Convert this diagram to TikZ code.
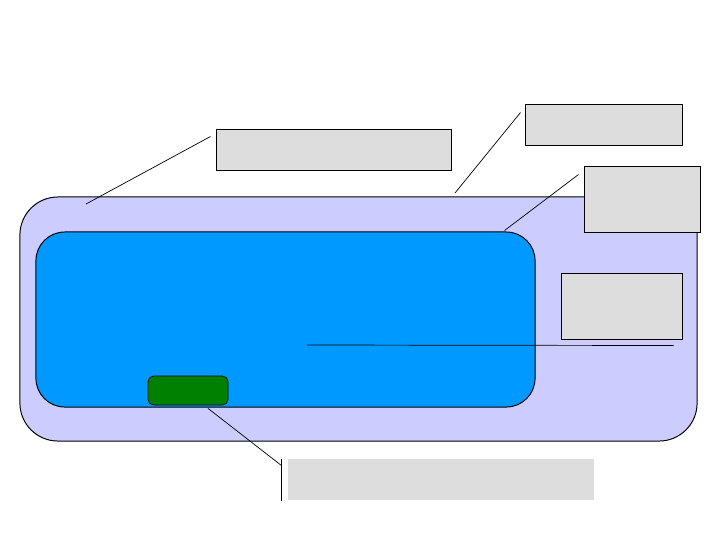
\documentclass[tikz,border=0pt]{standalone}
\usepackage{tikz}
\usetikzlibrary{positioning}
\usetikzlibrary{calc}

\definecolor{lavender}{HTML}{CCCCFF}
\definecolor{screenblue}{HTML}{0099FF}
\definecolor{keygreen}{HTML}{008000}
\definecolor{boxgray}{HTML}{DDDDDD}

\tikzset{
    callout/.style={draw, fill=boxgray, line width=0.7pt, inner sep=0pt},
    leader/.style={line width=0.5pt},
}

\begin{document}
\begin{tikzpicture}[x=0.025cm, y=-0.025cm]
    \useasboundingbox (0,0) rectangle (720,540);

    % body of the device
    \node[draw, fill=lavender, line width=0.7pt, rounded corners=0.95cm, inner sep=0pt,
          minimum width=16.925cm, minimum height=6.1cm] (case) at (358.5,319) {};
    \node[draw, fill=screenblue, line width=0.7pt, rounded corners=0.72cm, inner sep=0pt,
          minimum width=12.475cm, minimum height=4.375cm] (screen) at (285.5,319.5) {};
    \node[draw, fill=keygreen, line width=0.5pt, rounded corners=0.14cm, inner sep=0pt,
          minimum width=2cm, minimum height=0.725cm] (key) at (188,390.5) {};

    % label boxes
    \node[callout, minimum width=5.85cm, minimum height=1.025cm] (lbltop) at (334,149.5) {};
    \node[callout, minimum width=3.9cm, minimum height=1.025cm] (lblright) at (604,124.5) {};
    \node[callout, minimum width=2.9cm, minimum height=1.65cm] (lblcorner) at (642,199) {};
    \node[callout, minimum width=3.025cm, minimum height=1.65cm] (lblside) at (621.5,306) {};
    \node[fill=boxgray, inner sep=0pt, minimum width=7.65cm, minimum height=1.025cm] (lblbottom) at (441,479.5) {};

    % leader lines
    \coordinate (casept) at (86,204);
    \coordinate (edgept) at (455,193);
    \coordinate (screenpt) at (307,345);
    \draw[leader] (casept) -- ($(lbltop.north west)+(-6,8)$);
    \draw[leader] (edgept) -- ($(lblright.north west)+(-5,9)$);
    \draw[leader] ($(screen.north east)+(-31,-1)$) -- ($(lblcorner.north west)+(-5,9)$);
    \draw[leader] (screenpt) -- ($(lblside.south east)+(-9,6)$);
    \draw[leader] ($(key.south)+(20,3)$) -- ($(lblbottom.north west)+(-6,7)$);
    \draw[line width=0.7pt] ($(lblbottom.north west)+(-6,0)$) -- ($(lblbottom.south west)+(-6,1)$);
\end{tikzpicture}
\end{document}
